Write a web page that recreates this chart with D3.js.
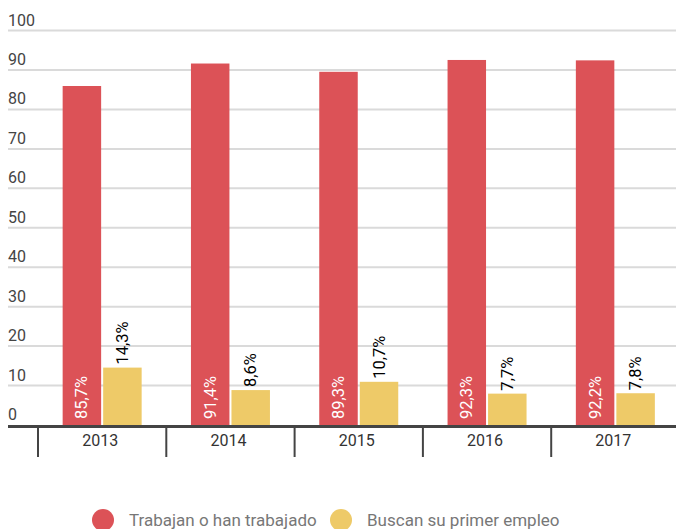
<!DOCTYPE html>
<html><head><meta charset="utf-8">
<script src="https://cdn.jsdelivr.net/npm/d3@7"></script>
<style>body{margin:0;background:#fff}svg{display:block;font-family:Roboto,sans-serif}</style>
</head><body><svg id="c" width="676" height="529"></svg>
<script>
const years = ["2013","2014","2015","2016","2017"];
const series = ["Trabajan o han trabajado","Buscan su primer empleo"];
const trabajan = [85.7, 91.4, 89.3, 92.3, 92.2];
const buscan = [14.3, 8.6, 10.7, 7.7, 7.8];
const yTicks = [0,10,20,30,40,50,60,70,80,90,100];
const colors = ["#dc5257","#eeca68"];

const svg = d3.select("#c");
const y = d3.scaleLinear().domain([0,100]).range([425,30.6]);
const x0 = d3.scaleBand().domain(years).range([38,679.5]);
const groupW = 79;
const x1 = d3.scaleBand().domain(series).range([0,groupW]).paddingInner(0.05);
const fmt = v => v.toFixed(1).replace(".",",") + "%";

svg.append("g").selectAll("line").data(yTicks.filter(d=>d>0)).join("line")
  .attr("x1",8).attr("x2",676).attr("y1",d=>y(d)).attr("y2",d=>y(d))
  .attr("stroke","#dadada").attr("stroke-width",2);
svg.append("g").selectAll("text").data(yTicks).join("text")
  .attr("x",8).attr("y",d=>y(d)-5).text(d=>d)
  .attr("font-size",16).attr("fill","#444");

const data = years.map((yr,i)=>({year:yr, vals:[trabajan[i], buscan[i]]}));
const g = svg.append("g").selectAll("g").data(data).join("g")
  .attr("transform",d=>`translate(${x0(d.year)+(x0.bandwidth()-groupW)/2},0)`);
g.selectAll("rect").data(d=>d.vals.map((v,k)=>({s:series[k],v,k}))).join("rect")
  .attr("x",d=>x1(d.s)).attr("width",x1.bandwidth())
  .attr("y",d=>y(d.v)-1).attr("height",d=>y(0)-y(d.v)+1)
  .attr("fill",d=>colors[d.k]);
g.each(function(d){
  const gg = d3.select(this);
  const cx0 = x1(series[0])+x1.bandwidth()/2;
  const cx1 = x1(series[1])+x1.bandwidth()/2;
  gg.append("text").attr("transform",`translate(${cx0+5.5},${y(0)-6}) rotate(-90)`)
    .attr("font-size",16.5).attr("fill","#fff").text(fmt(d.vals[0]));
  gg.append("text").attr("transform",`translate(${cx1+5.5},${y(d.vals[1])-4}) rotate(-90)`)
    .attr("font-size",16.5).attr("fill","#000").text(fmt(d.vals[1]));
});

svg.append("line").attr("x1",8).attr("x2",676).attr("y1",426.5).attr("y2",426.5)
  .attr("stroke","#444").attr("stroke-width",3);
const bounds = years.map(yr=>x0(yr)).concat([x0.range()[1]]);
svg.append("g").selectAll("line").data(bounds).join("line")
  .attr("x1",d=>d).attr("x2",d=>d).attr("y1",426).attr("y2",457)
  .attr("stroke","#444").attr("stroke-width",2);
svg.append("g").selectAll("text").data(years).join("text")
  .attr("x",d=>x0(d)+x0.bandwidth()/2-2).attr("y",446).attr("text-anchor","middle")
  .attr("font-size",16).attr("fill","#333").text(d=>d);

const leg = [{x:103,tx:129},{x:341,tx:367}];
series.forEach((s,i)=>{
  svg.append("circle").attr("cx",leg[i].x).attr("cy",520).attr("r",11).attr("fill",colors[i]);
  svg.append("text").attr("x",leg[i].tx).attr("y",526).attr("font-size",17)
    .attr("fill","#777").text(s);
});
</script></body></html>
